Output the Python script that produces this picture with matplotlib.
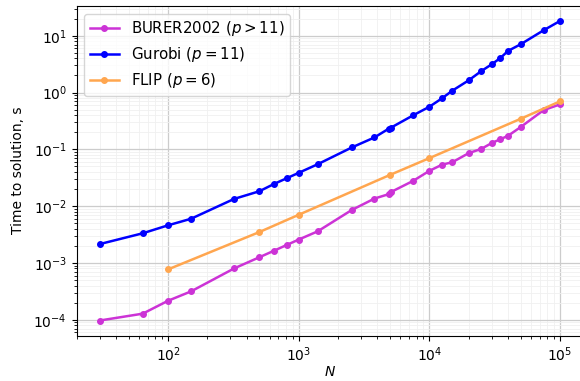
import numpy as np
import matplotlib
matplotlib.use("Agg")
import matplotlib.pyplot as plt

# Gurobi (p = 11)
gurobi_n = [30, 64, 100, 150, 320, 500, 650, 820, 1000, 1400, 2550, 3800, 4900, 5100,
            7500, 10000, 12500, 15000, 20000, 25000, 30000, 35000, 40000, 50000,
            75000, 100000]
gurobi_t = [0.00215, 0.00333, 0.0046, 0.0060, 0.0134, 0.0183, 0.0247, 0.0314, 0.0386,
            0.0548, 0.108, 0.162, 0.232, 0.242, 0.396, 0.562, 0.791, 1.08, 1.64, 2.39,
            3.14, 4.06, 5.40, 7.08, 12.5, 18.2]

# BURER2002 (p > 11)
burer_n = [30, 64, 100, 150, 320, 500, 650, 820, 1000, 1400, 2550, 3800, 4900, 5100,
           7500, 10000, 12500, 15000, 20000, 25000, 30000, 35000, 40000, 50000,
           75000, 100000]
burer_t = [9.7e-5, 1.28e-4, 2.16e-4, 3.16e-4, 8.0e-4, 1.26e-3, 1.65e-3, 2.10e-3,
           2.58e-3, 3.61e-3, 8.57e-3, 0.0136, 0.0163, 0.0178, 0.0278, 0.0418, 0.0537,
           0.0594, 0.0857, 0.102, 0.129, 0.151, 0.173, 0.247, 0.491, 0.619]

# FLIP (p = 6)
flip_n = [100, 500, 1000, 5000, 10000, 50000, 100000]
flip_t = [7.7e-4, 3.5e-3, 7.05e-3, 0.0355, 0.070, 0.345, 0.70]

fig = plt.figure(figsize=(5.8, 3.81), dpi=100)
ax = fig.add_axes([76.7 / 580, 1 - 335.5 / 381, (583 - 76.7) / 580, (335.5 - 6) / 381])

ax.plot(burer_n, burer_t, "-o", color="#cc33d6", lw=1.8, ms=4,
        label=r"BURER2002 ($p > 11$)")
ax.plot(gurobi_n, gurobi_t, "-o", color="#0000ff", lw=1.8, ms=4,
        label=r"Gurobi ($p = 11$)")
ax.plot(flip_n, flip_t, "-o", color="#ffa64f", lw=1.8, ms=4,
        label=r"FLIP ($p = 6$)")

ax.set_xscale("log")
ax.set_yscale("log")
ax.grid(True, which="major", color="#cccccc", lw=0.9)
ax.grid(True, which="minor", color="#f0f0f0", lw=0.6)
ax.set_axisbelow(True)
ax.set_xlabel(r"$N$", labelpad=1)
ax.set_ylabel("Time to solution, s", labelpad=6)
ax.legend(loc="upper left", fontsize=10.8, handlelength=1.9, labelspacing=0.45)

fig.savefig("out.png", dpi=100)
